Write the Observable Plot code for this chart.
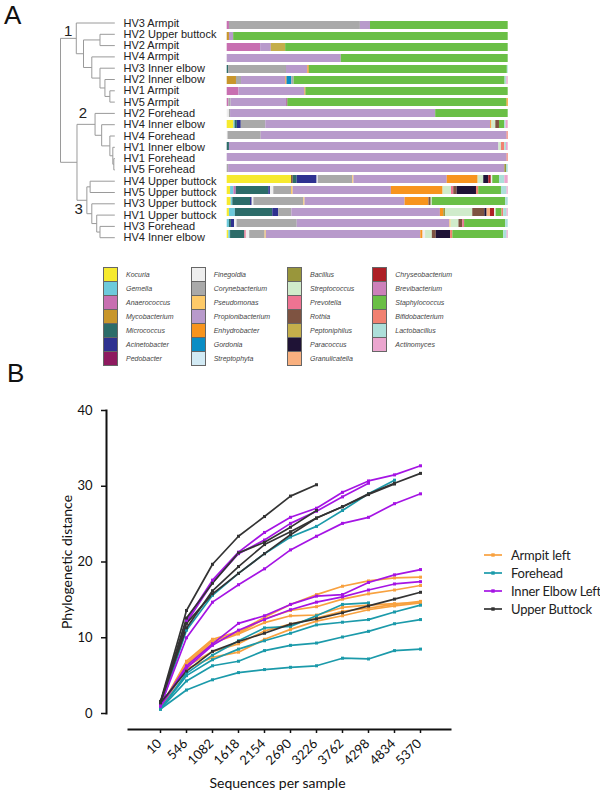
<!DOCTYPE html>
<html><head><meta charset="utf-8">
<script src="https://cdn.jsdelivr.net/npm/d3@7"></script>
<script src="https://cdn.jsdelivr.net/npm/@observablehq/plot@0.6"></script>
<style>
body{margin:0;background:#fff;}
#root{position:relative;width:600px;height:792px;overflow:hidden;font-family:"Liberation Sans",Arial,sans-serif;}
#root svg{position:absolute;left:0;}
.panel{position:absolute;font-size:26px;color:#111;}
.gsw{position:absolute;width:13px;height:13px;border:1px solid #666;}
.gtx{position:absolute;font-size:7px;font-style:italic;color:#444;white-space:nowrap;line-height:9px;}
.sl{position:absolute;font-family:Lato,sans-serif;font-size:13px;letter-spacing:-0.2px;color:#222;white-space:nowrap;line-height:16px;}
</style></head><body><div id="root"></div>
<script>
// ---------- Panel A data ----------
const sampleLabels = ["HV3 Armpit","HV2 Upper buttock","HV2 Armpit","HV4 Armpit","HV3 Inner elbow","HV2 Inner elbow","HV1 Armpit","HV5 Armpit","HV2 Forehead","HV4 Inner elbow","HV4 Forehead","HV1 Inner elbow","HV1 Forehead","HV5 Forehead","HV4 Upper buttock","HV5 Upper buttock","HV3 Upper buttock","HV1 Upper buttock","HV3 Forehead","HV4 Inner elbow"];
const genera = ["Kocuria","Gemella","Anaerococcus","Mycobacterium","Micrococcus","Acinetobacter","Pedobacter",
  "Finegoldia","Corynebacterium","Pseudomonas","Propionibacterium","Enhydrobacter","Gordonia","Streptophyta",
  "Bacillus","Streptococcus","Prevotella","Rothia","Peptoniphilus","Paracoccus","Granulicatella",
  "Chryseobacterium","Brevibacterium","Staphylococcus","Bifidobacterium","Lactobacillus","Actinomyces"];
const generaColors = ["#F6EA2E","#6DCADC","#C86FB1","#C8962B","#2C6C69","#2E3190","#8E1A5F",
  "#EEEEEE","#A9A9A9","#FDCA69","#B89ACB","#F7941E","#0A8DC4","#D2EAF4",
  "#99963B","#D0EBCB","#EE7392","#7E5341","#C4AE4B","#1F1336","#F9B07F",
  "#AD1F25","#CC80BA","#6ABF46","#F18171","#ADDFDA","#EBA6CF"];
const barSegments = [
  [["Anaerococcus",0.8],["Corynebacterium",46.6],["Propionibacterium",3.6],["Staphylococcus",49.0]],
  [["Mycobacterium",0.8],["Propionibacterium",1.5],["Staphylococcus",97.7]],
  [["Anaerococcus",11.9],["Propionibacterium",3.8],["Peptoniphilus",5.1],["Staphylococcus",79.2]],
  [["Propionibacterium",40.6],["Staphylococcus",59.4]],
  [["Micrococcus",0.5],["Corynebacterium",20.6],["Propionibacterium",7.6],["Enhydrobacter",0.5],["Staphylococcus",70.5],["Lactobacillus",0.3]],
  [["Mycobacterium",3.3],["Corynebacterium",1.8],["Propionibacterium",15.8],["Enhydrobacter",0.4],["Gordonia",1.7],["Corynebacterium",0.8],["Staphylococcus",75.1],["Lactobacillus",0.6],["Actinomyces",0.5]],
  [["Anaerococcus",4.2],["Propionibacterium",23.5],["Enhydrobacter",0.3],["Staphylococcus",72.0]],
  [["Anaerococcus",0.6],["Corynebacterium",0.8],["Propionibacterium",19.9],["Pedobacter",0.3],["Staphylococcus",78.0],["Enhydrobacter",0.4]],
  [["Finegoldia",0.8],["Corynebacterium",0.4],["Propionibacterium",73.0],["Staphylococcus",25.8]],
  [["Kocuria",2.4],["Gemella",0.4],["Micrococcus",0.8],["Acinetobacter",1.4],["Corynebacterium",8.7],["Propionibacterium",79.9],["Enhydrobacter",0.4],["Streptococcus",1.4],["Rothia",1.3],["Staphylococcus",1.8],["Lactobacillus",0.5],["Actinomyces",0.8]],
  [["Finegoldia",0.3],["Corynebacterium",11.8],["Propionibacterium",87.5],["Bifidobacterium",0.4]],
  [["Micrococcus",0.8],["Propionibacterium",95.8],["Streptococcus",0.9],["Bifidobacterium",1.2],["Lactobacillus",0.6],["Actinomyces",0.6]],
  [["Propionibacterium",99.6],["Bifidobacterium",0.4]],
  [["Corynebacterium",0.5],["Propionibacterium",98.3],["Bacillus",0.6],["Lactobacillus",0.6]],
  [["Kocuria",22.9],["Rothia",0.6],["Micrococcus",1.4],["Acinetobacter",7.1],["Finegoldia",0.4],["Corynebacterium",12.3],["Pseudomonas",0.4],["Propionibacterium",33.2],["Enhydrobacter",11.0],["Streptococcus",2.0],["Paracoccus",1.8],["Chryseobacterium",0.9],["Finegoldia",0.5],["Staphylococcus",2.4],["Lactobacillus",1.9],["Actinomyces",1.2]],
  [["Kocuria",1.2],["Gemella",1.2],["Anaerococcus",0.8],["Micrococcus",11.6],["Acinetobacter",0.6],["Finegoldia",1.2],["Corynebacterium",6.3],["Pseudomonas",0.6],["Propionibacterium",35.0],["Enhydrobacter",18.4],["Streptococcus",3.0],["Prevotella",0.8],["Rothia",1.2],["Paracoccus",6.9],["Bifidobacterium",0.8],["Staphylococcus",8.1],["Lactobacillus",2.0],["Actinomyces",0.4]],
  [["Kocuria",1.4],["Gemella",0.6],["Micrococcus",6.3],["Acinetobacter",0.6],["Finegoldia",0.6],["Corynebacterium",17.8],["Pseudomonas",0.4],["Propionibacterium",35.6],["Enhydrobacter",8.5],["Rothia",0.8],["Streptococcus",0.4],["Staphylococcus",26.1],["Lactobacillus",0.9]],
  [["Kocuria",0.8],["Gemella",2.1],["Micrococcus",13.3],["Acinetobacter",2.1],["Corynebacterium",4.7],["Propionibacterium",52.8],["Enhydrobacter",1.2],["Bacillus",0.6],["Streptococcus",9.7],["Rothia",4.3],["Paracoccus",0.8],["Granulicatella",1.2],["Chryseobacterium",1.5],["Finegoldia",0.5],["Staphylococcus",2.1],["Bifidobacterium",0.6],["Lactobacillus",1.2],["Actinomyces",0.4]],
  [["Gemella",0.8],["Micrococcus",0.7],["Acinetobacter",1.1],["Finegoldia",0.9],["Corynebacterium",21.4],["Propionibacterium",54.3],["Pseudomonas",0.4],["Streptococcus",2.8],["Rothia",1.4],["Prevotella",0.6],["Staphylococcus",14.6],["Lactobacillus",0.9]],
  [["Kocuria",0.6],["Gemella",0.6],["Micrococcus",5.1],["Prevotella",0.5],["Finegoldia",1.2],["Corynebacterium",5.5],["Pseudomonas",0.4],["Propionibacterium",55.0],["Enhydrobacter",0.8],["Finegoldia",0.9],["Streptococcus",2.4],["Rothia",1.4],["Paracoccus",5.1],["Bifidobacterium",0.8],["Staphylococcus",18.1],["Lactobacillus",1.2],["Actinomyces",0.4]]
];
// dendrogram: node heights (distance from root), leaves referenced by row index
const leafHeight = 55;
const N = (h, a, b, label) => ({h, c: [a, b], label});
const tree = N(0,
  N(16, 0, N(23.3, N(40, 1, 2), N(31.7, 3, N(40, 4, N(45, 5, N(50, 6, 7))))), "1"),
  N(16.7,
    N(35, 8, N(41.7, 9, N(50, 10, N(53, 11, N(54, 12, 13)))), "2"),
    N(26.7, N(30, 14, 15), N(31.7, 16, N(36.7, 17, N(40, 18, 19))), "3")));

// ---------- Panel B data ----------
const depths = [10,546,1082,1618,2154,2690,3226,3762,4298,4834,5370];
const siteNames = ["Armpit left","Forehead","Inner Elbow Left","Upper Buttock"];
const siteColors = ["#F8A13F","#1B9AAA","#A514E4","#333333"];
const armpitLeft = [
  [0.8,6.9,9.8,10.8,12.7,14.4,15.7,16.8,17.5,17.9,18.0],
  [0.8,6.6,9.6,10.6,12.5,13.6,14.1,15.1,15.8,16.3,16.9],
  [0.8,6.2,8.2,9.2,10.9,11.8,12.6,13.5,13.9,14.4,14.8],
  [0.8,5.9,7.4,8.1,9.8,11.1,12.2,12.9,13.7,14.2,14.6],
  [0.8,6.5,9.3,10.5,12.0,12.9,13.0,14.0,14.3,14.5,14.6]];
const forehead = [
  [0.9,11.0,15.6,18.5,21.1,23.3,24.7,26.8,29.0,30.8],
  [0.6,5.3,7.7,9.6,11.3,11.5,12.9,14.4,14.6],
  [0.6,5.0,7.1,8.5,9.6,10.6,11.7,12.05,12.4,13.4,14.3],
  [0.6,4.3,6.3,6.9,8.3,9.0,9.3,10.1,10.85,11.85,12.4],
  [0.6,3.1,4.45,5.4,5.8,6.1,6.3,7.3,7.2,8.3,8.5]];
const innerElbowLeft = [
  [1.2,12.3,17.6,21.3,23.9,25.9,27.1,29.2,30.7,31.5,32.7],
  [1.2,12.0,17.3,21.1,22.9,25.1,26.7,28.6,30.4],
  [1.0,10.0,14.7,17.0,19.1,21.6,23.4,25.1,25.9,27.7,29.0],
  [1.0,6.3,9.2,11.9,12.9,14.4,15.5,15.7,17.3,18.3,19.0],
  [1.0,6.0,9.0,11.0,12.4,13.7,14.7,15.4,16.3,17.1,17.4]];
const upperButtock = [
  [1.6,13.6,19.7,23.4,26.0,28.7,30.2],
  [1.5,11.9,15.8,18.5,21.1,23.6,25.8,27.3,29.0,30.4,31.7],
  [1.5,12.6,17.2,21.2,22.6,24.6,26.8],
  [1.5,11.3,16.2,19.4,22.3,24.0,25.8,27.3,28.9,30.3],
  [1.4,5.6,8.2,9.5,10.6,11.8,12.5,13.3,14.2,15.1,16.0]];
const siteSeries = [armpitLeft, forehead, innerElbowLeft, upperButtock];

// ---------- build ----------
const root = document.getElementById("root");
const FONT = '"Liberation Sans", Arial, sans-serif';

// Panel A: bars
const barData = barSegments.flatMap((segs, row) => segs.map(([genus, value]) => ({row, genus, value})));
const rows = d3.range(sampleLabels.length);
const barsPlot = Plot.plot({
  width: 600, height: 250, margin: 0,
  style: {background: "transparent"},
  x: {domain: [0, 1], range: [226.7, 507.7], axis: null},
  y: {type: "band", domain: rows, range: [16.85, 242.85], paddingInner: 0.25, paddingOuter: 0.125, axis: null},
  color: {domain: genera, range: generaColors},
  marks: [
    Plot.barX(barData, Plot.stackX({x: "value", y: "row", fill: "genus", offset: "normalize"}))
  ]
});
barsPlot.style.top = "0px";
root.appendChild(barsPlot);

// Panel A: dendrogram
function layout(node) {
  if (typeof node === "number") return {h: leafHeight, y: node, leaf: node};
  const kids = node.c.map(layout);
  return {h: node.h, y: (kids[0].y + kids[kids.length - 1].y) / 2, kids, label: node.label};
}
const laid = layout(tree);
const segs = [], clusters = [];
(function walk(n) {
  if (!n.kids) return;
  segs.push({x1: n.h, y1: n.kids[0].y, x2: n.h, y2: n.kids[n.kids.length - 1].y});
  for (const k of n.kids) { segs.push({x1: n.h, y1: k.y, x2: k.h, y2: k.y}); walk(k); }
  if (n.label) clusters.push(n);
})(laid);
const leaves = rows.map(i => ({h: leafHeight, y: i, name: sampleLabels[i]}));
const labelOffsets = {"1": [-4, -7], "2": [-8, -11], "3": [-4, 9]};
const treePlot = Plot.plot({
  width: 600, height: 250, margin: 0,
  style: {background: "transparent", fontFamily: FONT},
  x: {domain: [0, leafHeight], range: [60, 114.3], axis: null},
  y: {domain: [0, 19], range: [22.5, 237.2], axis: null},
  marks: [
    Plot.link(segs, {x1: "x1", y1: "y1", x2: "x2", y2: "y2", stroke: "#9a9a9a", strokeWidth: 1}),
    Plot.text(leaves, {x: "h", y: "y", text: "name", dx: 8.7, textAnchor: "start", fontSize: 11, fill: "#222"}),
    ...clusters.map(c => Plot.text([c], {x: "h", y: "y", text: "label", dx: labelOffsets[c.label][0], dy: labelOffsets[c.label][1], fontSize: 15, fill: "#222", textAnchor: "end"}))
  ]
});
treePlot.style.top = "0px";
root.appendChild(treePlot);

// Panel A: genus legend (4 columns of 7)
const colLefts = [103, 190.7, 287, 372.3];
genera.forEach((g, i) => {
  const col = Math.floor(i / 7), r = i % 7;
  const sw = document.createElement("div");
  sw.className = "gsw";
  sw.style.left = colLefts[col] + "px";
  sw.style.top = (267 + r * 14) + "px";
  sw.style.background = generaColors[i];
  root.appendChild(sw);
  const tx = document.createElement("div");
  tx.className = "gtx";
  tx.style.left = (colLefts[col] + 23) + "px";
  tx.style.top = (267 + r * 14 + 3) + "px";
  tx.textContent = g;
  root.appendChild(tx);
});

// Panel B
const lineData = [];
siteSeries.forEach((series, si) => series.forEach((vals, k) => vals.forEach((v, i) =>
  lineData.push({site: siteNames[si], sample: si + "-" + k, depth: depths[i], value: v}))));
const curvePlot = Plot.plot({
  width: 600, height: 412,
  marginLeft: 128, marginRight: 150, marginTop: 30, marginBottom: 63,
  style: {background: "transparent", fontFamily: "Lato, sans-serif", fontSize: "13px", color: "#111"},
  x: {type: "point", domain: depths, range: [142, 437]},
  y: {domain: [0, 40], range: [333, 30]},
  color: {domain: siteNames, range: siteColors},
  marks: [
    Plot.frame({anchor: "left", dx: -22, insetBottom: 16, strokeWidth: 2, stroke: "#111"}),
    Plot.frame({anchor: "bottom", strokeWidth: 2, stroke: "#111"}),
    Plot.axisY({ticks: [0, 10, 20, 30, 40], dx: -22, tickSize: 5, tickPadding: 9, label: null, strokeWidth: 1.5, fontSize: 13}),
    Plot.axisX({tickSize: 4, tickPadding: 8, tickRotate: -45, label: null, strokeWidth: 1.5, fontSize: 13, tickFormat: d => String(d), text: null}),
    Plot.axisX({tickSize: 0, tickPadding: 12, tickRotate: -45, lineAnchor: "middle", textAnchor: "end", label: null, fontSize: 13, tickFormat: d => String(d), dx: -1}),
    Plot.line(lineData, {x: "depth", y: "value", z: "sample", stroke: "site", strokeWidth: 1.7}),
    Plot.dot(lineData, {x: "depth", y: "value", fill: "site", r: 1.7, symbol: "square"}),
    Plot.text(["Phylogenetic distance"], {frameAnchor: "left", textAnchor: "middle", rotate: -90, dx: -61, dy: -8, fontSize: 14}),
    Plot.text(["Sequences per sample"], {frameAnchor: "bottom", textAnchor: "middle", dx: -12, dy: 58, fontSize: 14})
  ]
});
curvePlot.style.top = "380px";
root.appendChild(curvePlot);

// Panel B legend
const legTops = [555, 573.3, 591.3, 609.3];
siteNames.forEach((s, i) => {
  const ns = "http://www.w3.org/2000/svg";
  const svg = document.createElementNS(ns, "svg");
  svg.setAttribute("width", 20); svg.setAttribute("height", 6);
  svg.style.position = "absolute"; svg.style.left = "483px"; svg.style.top = (legTops[i] - 3) + "px";
  const ln = document.createElementNS(ns, "line");
  ln.setAttribute("x1", 1); ln.setAttribute("x2", 19); ln.setAttribute("y1", 3); ln.setAttribute("y2", 3);
  ln.setAttribute("stroke", siteColors[i]); ln.setAttribute("stroke-width", 1.7);
  svg.appendChild(ln);
  const rc = document.createElementNS(ns, "rect");
  rc.setAttribute("x", 8.3); rc.setAttribute("y", 1.3); rc.setAttribute("width", 3.4); rc.setAttribute("height", 3.4);
  rc.setAttribute("fill", siteColors[i]);
  svg.appendChild(rc);
  root.appendChild(svg);
  const t = document.createElement("div");
  t.className = "sl"; t.style.left = "511px"; t.style.top = (legTops[i] - 8.5) + "px";
  t.textContent = s;
  root.appendChild(t);
});

// panel letters
for (const [txt, l, t] of [["A", 4, 0], ["B", 7, 358]]) {
  const d = document.createElement("div");
  d.className = "panel"; d.style.left = l + "px"; d.style.top = t + "px";
  d.textContent = txt; root.appendChild(d);
}
</script></body></html>
